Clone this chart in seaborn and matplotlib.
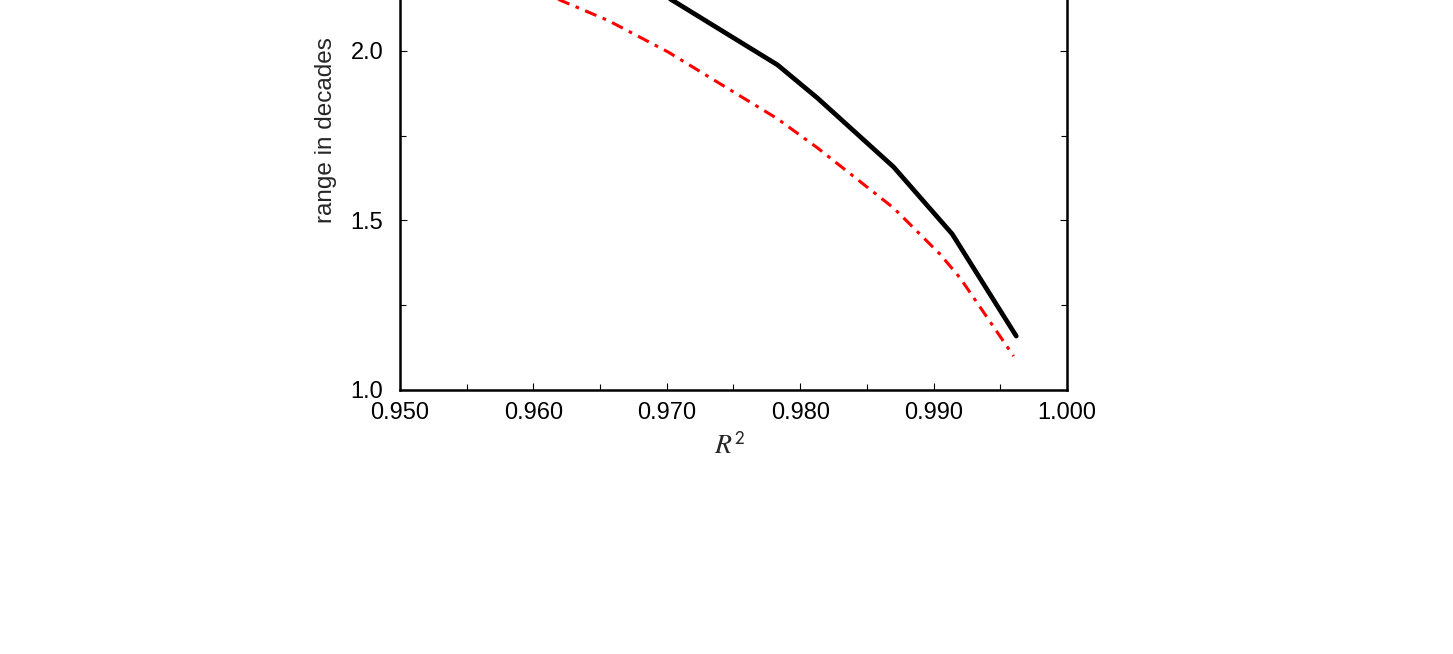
import numpy as np
import pandas as pd
import matplotlib.pyplot as plt
import seaborn as sns

# values
r2_black = [0.9650, 0.9704, 0.9783, 0.9813, 0.9870, 0.9914, 0.9962]
dec_black = [2.28, 2.15, 1.959, 1.861, 1.658, 1.460, 1.159]
r2_red = [0.9560, 0.9620, 0.9656, 0.9701, 0.9783, 0.9813, 0.9870, 0.9905, 0.9920, 0.9960]
dec_red = [2.30, 2.15, 2.09, 1.997, 1.80, 1.714, 1.537, 1.40, 1.33, 1.10]
x_ticks = [0.95, 0.96, 0.97, 0.98, 0.99, 1.0]
x_labels = ["0.950", "0.960", "0.970", "0.980", "0.990", "1.000"]
y_ticks = [1.0, 1.5, 2.0, 2.5, 3.0]
y_labels = ["1.0", "1.5", "2.0", "", ""]  # upper ones fall outside the crop

sns.set_style("ticks")
plt.rcParams["font.family"] = ["Liberation Sans", "DejaVu Sans"]
plt.rcParams["mathtext.fontset"] = "stix"

fig = plt.figure(figsize=(14.53, 6.54), dpi=100)
ax = fig.add_axes([0.2753, 0.4037, 0.459, 1.0367])

sns.lineplot(x=r2_black, y=dec_black, ax=ax, color="black", lw=3.4, sort=False,
             solid_capstyle="round")
sns.lineplot(x=r2_red, y=dec_red, ax=ax, color="red", lw=2.2, sort=False,
             dashes=False, linestyle=(0, (4, 2.2, 1.2, 2.2)))

ax.set_xlim(0.950, 1.000)
ax.set_ylim(1.0, 3.0)
ax.set_xticks(x_ticks)
ax.set_xticklabels(x_labels)
ax.set_xticks(np.arange(0.955, 1.0, 0.01), minor=True)
ax.set_yticks(y_ticks)
ax.set_yticklabels(y_labels)
ax.set_yticks([1.25, 1.75, 2.25, 2.75], minor=True)
ax.tick_params(which="both", direction="in", top=True, right=True,
               labelsize=17, width=0.8, colors="black")
ax.tick_params(axis="x", pad=9)
ax.tick_params(axis="y", pad=12)
ax.tick_params(which="major", length=5)
ax.tick_params(which="minor", length=4)
for s in ax.spines.values():
    s.set_linewidth(1.8)
    s.set_color("black")

ax.set_ylabel("range in decades", fontsize=17.5)
ax.yaxis.set_label_coords(-0.094, 0.383)
ax.set_xlabel(r"$R^{\mathsf{2}}$", fontsize=20)
ax.xaxis.set_label_coords(0.495, -0.063)

fig.savefig("out.png", dpi=100)
